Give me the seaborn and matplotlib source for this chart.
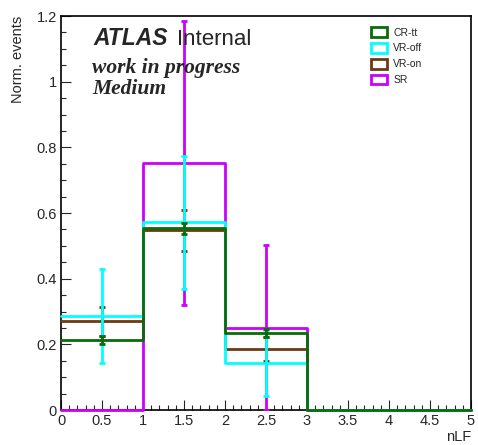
#!/usr/bin/env python3
"""
nLF shape comparison between regions (normalised)
"""

import numpy as np
import pandas as pd
import matplotlib
matplotlib.use("Agg")
import matplotlib.pyplot as plt
import seaborn as sns
from matplotlib.patches import Patch
from matplotlib.ticker import MultipleLocator

# bin edges and centres of nLF
bin_edges = [0, 1, 2, 3, 4, 5]
bin_centers = [0.5, 1.5, 2.5, 3.5, 4.5]

# normalised contents and errors per region
regions = ["CR-tt", "VR-off", "VR-on", "SR"]
cr_tt = [0.214, 0.554, 0.234, 0.0, 0.0]
cr_tt_err = [0.012, 0.017, 0.013, 0.0, 0.0]
vr_off = [0.286, 0.572, 0.144, 0.0, 0.0]
vr_off_err = [0.143, 0.202, 0.100, 0.0, 0.0]
vr_on = [0.270, 0.547, 0.186, 0.0, 0.0]
vr_on_err = [0.045, 0.062, 0.036, 0.0, 0.0]
sr = [0.0, 0.753, 0.251, 0.0, 0.0]
sr_err = [0.0, 0.432, 0.251, 0.0, 0.0]

# tick labels
x_ticks = [0, 0.5, 1, 1.5, 2, 2.5, 3, 3.5, 4, 4.5, 5]
x_labels = ["0", "0.5", "1", "1.5", "2", "2.5", "3", "3.5", "4", "4.5", "5"]
y_ticks = [0, 0.2, 0.4, 0.6, 0.8, 1.0, 1.2]
y_labels = ["0", "0.2", "0.4", "0.6", "0.8", "1", "1.2"]

colors = {"CR-tt": "#0b6b0b", "VR-off": "#00ffff", "VR-on": "#6b3a10", "SR": "#cc00ff"}

sns.set_style("ticks")
plt.rcParams['font.family'] = ['Liberation Sans', 'DejaVu Sans']

fig = plt.figure(figsize=(4.78, 4.45), dpi=100)
ax = fig.add_axes([61 / 478, 1 - 410 / 445, 410 / 478, 394 / 445])

values = {"CR-tt": (cr_tt, cr_tt_err), "VR-off": (vr_off, vr_off_err),
          "VR-on": (vr_on, vr_on_err), "SR": (sr, sr_err)}

# draw SR first, CR-tt last (on top); lines above the frame like ROOT
for i, name in enumerate(reversed(regions)):
    vals, errs = values[name]
    df = pd.DataFrame({"nLF": bin_centers, "w": vals})
    sns.histplot(data=df, x="nLF", weights="w", bins=bin_edges, element="step",
                 fill=False, color=colors[name], linewidth=2, ax=ax,
                 clip_on=False, zorder=3 + i)
    mask = np.array(errs) > 0
    ax.errorbar(np.array(bin_centers)[mask], np.array(vals)[mask],
                yerr=np.array(errs)[mask], fmt="none", ecolor=colors[name],
                elinewidth=2, capsize=2, capthick=2, zorder=3 + i)

ax.set_xlim(0, 5)
ax.set_ylim(0, 1.2)
ax.set_xticks(x_ticks)
ax.set_xticklabels(x_labels)
ax.set_yticks(y_ticks)
ax.set_yticklabels(y_labels)
ax.xaxis.set_minor_locator(MultipleLocator(0.1))
ax.yaxis.set_minor_locator(MultipleLocator(0.05))
ax.tick_params(which="major", direction="in", length=7, width=0.8, labelsize=10.5, pad=3)
ax.tick_params(which="minor", direction="in", length=3.5, width=0.8)
for sp in ax.spines.values():
    sp.set_visible(True)
    sp.set_linewidth(1.2)
    sp.set_color("black")

ax.set_xlabel("")
ax.set_ylabel("")
fig.text(471 / 478, 1 - 437 / 445, "nLF", ha="right", va="center", fontsize=10.5)
fig.text(18 / 478, 1 - 16 / 445, "Norm. events", rotation=90, ha="center", va="top",
         fontsize=10.5)

# labels
fig.text(93 / 478, 1 - 45 / 445, "ATLAS", fontsize=16.5, fontweight="bold",
         fontstyle="italic", va="baseline")
fig.text(177 / 478, 1 - 45 / 445, "Internal", fontsize=16, va="baseline")
fig.text(92 / 478, 1 - 73 / 445, "work in progress", fontsize=15.5, fontweight="bold",
         fontstyle="italic", family=["Liberation Serif", "DejaVu Serif"], va="baseline")
fig.text(92 / 478, 1 - 94 / 445, "Medium", fontsize=15.5, fontweight="bold",
         fontstyle="italic", family=["Liberation Serif", "DejaVu Serif"], va="baseline")

handles = [Patch(facecolor="white", edgecolor=colors[n], linewidth=2, label=n)
           for n in regions]
fig.legend(handles=handles, loc="upper left", bbox_to_anchor=(364 / 478, 1 - 20 / 445),
           frameon=False, fontsize=7.5, handlelength=1.5, handleheight=1.0,
           handletextpad=0.6, labelspacing=0.55, borderpad=0.2)

fig.savefig("out.png", dpi=100)
